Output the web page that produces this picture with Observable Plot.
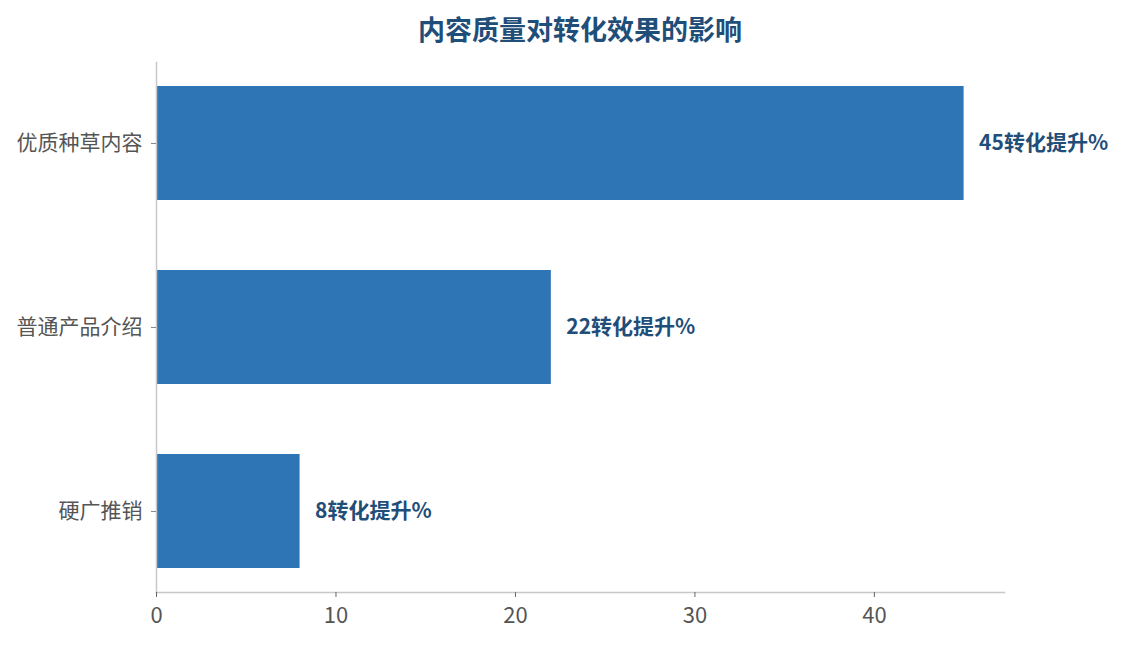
<!DOCTYPE html>
<html><head><meta charset="utf-8">
<script src="https://cdn.jsdelivr.net/npm/d3@7"></script>
<script src="https://cdn.jsdelivr.net/npm/@observablehq/plot@0.6"></script>
<style>
body{margin:0;background:#fff;font-family:"Noto Sans CJK SC","Noto Sans",sans-serif;}
#title{height:40px;line-height:40px;padding-top:9px;text-align:center;font-size:27px;font-weight:bold;color:#1f4e79;box-sizing:border-box;padding-left:35px;}
</style></head><body>
<div id="title">内容质量对转化效果的影响</div>
<div id="chart"></div>
<script>
const categories = ["优质种草内容", "普通产品介绍", "硬广推销"];
const values = [45, 22, 8];
const labelSuffix = "转化提升%";
const xTicks = [0, 10, 20, 30, 40];

const data = categories.map((c, i) => ({category: c, value: values[i]}));

const chart = Plot.plot({
  width: 1125,
  height: 605,
  marginTop: 22,
  marginBottom: 53,
  marginLeft: 156,
  marginRight: 121,
  style: {fontFamily: '"Noto Sans CJK SC","Noto Sans",sans-serif', background: "#fff"},
  x: {domain: [0, 47.25], ticks: xTicks, label: null},
  y: {domain: categories, paddingInner: 0.38, paddingOuter: 0.13, label: null},
  marks: [
    Plot.barX(data, {x: "value", y: "category", fill: "#2e75b6"}),
    Plot.frame({anchor: "bottom", stroke: "#c8c8c8", strokeWidth: 1.5}),
    Plot.frame({anchor: "left", stroke: "#c8c8c8", strokeWidth: 1.5}),
    Plot.axisX({ticks: xTicks, tickSize: 5, stroke: "#666", tickPadding: 10, fontSize: 22, color: "#555", label: null}),
    Plot.axisY({tickSize: 5, stroke: "#888", tickPadding: 9, fontSize: 21, color: "#555", label: null}),
    Plot.text(data, {x: "value", y: "category", text: d => d.value + labelSuffix, dx: 15, textAnchor: "start", fontSize: 21, fontWeight: "bold", fill: "#1f4e79"})
  ]
});
document.getElementById("chart").appendChild(chart);
</script>
</body></html>
